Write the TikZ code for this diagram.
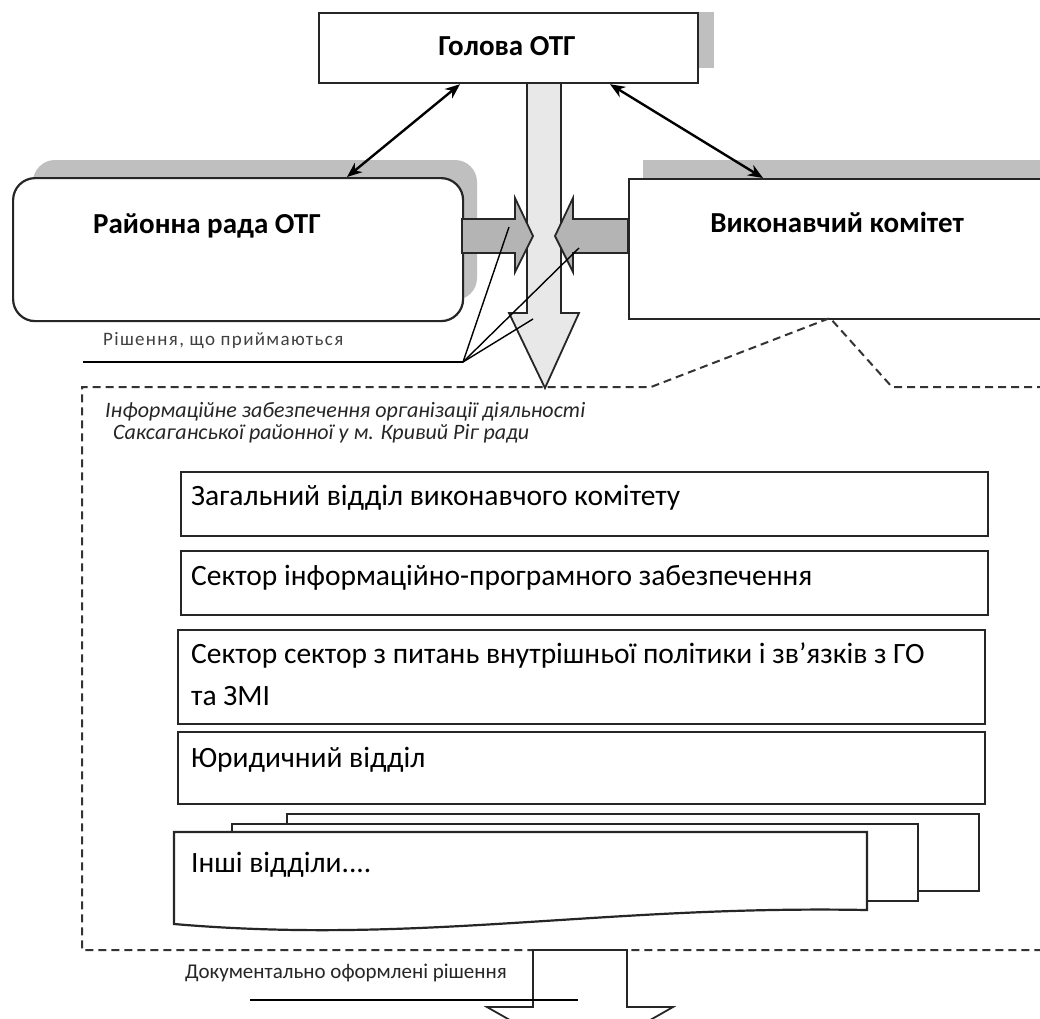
\documentclass[tikz,border=0pt]{standalone}
\usepackage{fontspec}
\setmainfont{Carlito}
\newfontfamily\spacedfont[LetterSpace=7]{Carlito}
\usetikzlibrary{arrows.meta,calc}
\definecolor{shadowgray}{HTML}{BFBFBF}
\definecolor{armgray}{HTML}{B4B4B4}
\definecolor{lightgray}{HTML}{E8E8E8}
\begin{document}
\begin{tikzpicture}[x=1pt,y=-1pt,
  box/.style={draw=black!85, line width=2.2pt, fill=white, inner sep=0pt, anchor=north west},
  big/.style={font=\fontsize{29}{33}\selectfont\bfseries, inner sep=0pt},
  body/.style={font=\fontsize{29.5}{42}\selectfont, anchor=west, inner sep=0pt, align=left},
  ital/.style={font=\fontsize{22}{26}\selectfont\itshape, anchor=west, inner sep=0pt, text=black!85},
  link/.style={line width=2.4pt, {Stealth[length=15pt,width=12pt]}-{Stealth[length=15pt,width=12pt]}},
  fanline/.style={line width=1.4pt},
  dashline/.style={draw=black!80, line width=2pt, dash pattern=on 8pt off 5pt},
  blockarrow/.style={draw=black!85, line width=1.8pt},
]
\clip (0,0) rectangle (1040,1018);
\fill[white] (0,0) rectangle (1040,1018);

% shadows
\fill[shadowgray] (697,12) rectangle (714,68);
\fill[shadowgray, rounded corners=22pt] (33,160) rectangle (477,300);
\fill[shadowgray] (643,160) rectangle (1060,300);

% central downward arrow
\draw[blockarrow, fill=lightgray] (527,70) -- (527,313) -- (509,313) -- (545,388) -- (579,313) -- (561,313) -- (561,70) -- cycle;

% main boxes
\node[box, minimum width=379pt, minimum height=70pt] (head) at (318,12) {};
\node[box, rounded corners=22pt, minimum width=450pt, minimum height=143pt] (rada) at (12,177) {};
\node[box, minimum width=440pt, minimum height=140pt] (exec) at (628,178) {};

\node[big] (headT) at (507,46) {Голова ОТГ};
\node[big] (radaT) at (207,226) {Районна рада ОТГ};
\node[big] (execT) at (837,222) {Виконавчий\ комітет};

% horizontal arrows
\draw[blockarrow, fill=armgray] (462,219) -- (515,219) -- (515,198) -- (533,236) -- (515,272) -- (515,253) -- (462,253) -- cycle;
\draw[blockarrow, fill=armgray] (628,219) -- (573,219) -- (573,198) -- (555,236) -- (573,272) -- (573,253) -- (628,253) -- cycle;

% two-way links
\draw[link] ($(head.south west)+(142,0)$) -- ($(rada.north west)+(335,0)$);
\draw[link] ($(head.south west)+(292,0)$) -- ($(exec.north west)+(135,0)$);

% callout
\node[font=\fontsize{19}{22}\selectfont\spacedfont, text=black!75, anchor=west, inner sep=0pt] (decT) at (103,341) {Рішення, що приймаються};
\coordinate (fan) at (463,362);
\coordinate (f1) at (509,227);
\coordinate (f2) at (579,248);
\coordinate (f3) at (533,319);
\draw[fanline] (83,362) -- (fan);
\draw[fanline] (fan) -- (f1);
\draw[fanline] (fan) -- (f2);
\draw[fanline] (fan) -- (f3);

% dashed region
\draw[dashline] (1045,387) -- (892,387) -- (830,318) -- (651,387) -- (82,387) -- (82,950) -- (1045,950);

\node[ital] (t1) at (105,412) {Інформаційне забезпечення організації діяльності};
\node[ital] (t2) at (113,434) {Саксаганської районної у м. Кривий Ріг ради};

% departments
\node[box, minimum width=807pt, minimum height=64pt] (b1) at (180,471) {};
\node[box, minimum width=807pt, minimum height=64pt] (b2) at (180,550) {};
\node[box, minimum width=807pt, minimum height=94pt] (b3) at (177,629) {};
\node[box, minimum width=807pt, minimum height=72pt] (b4) at (177,731) {};
\node[body] (b1T) at (191,498) {Загальний відділ виконавчого комітету};
\node[body] (b2T) at (191,578) {Сектор інформаційно-програмного забезпечення};
\node[body] (b3T) at (191,674) {Сектор сектор з питань внутрішньої політики і зв’язків з ГО\\та ЗМІ};
\node[body] (b4T) at (191,760) {Юридичний відділ};

% stacked documents
\node[box, minimum width=692pt, minimum height=77pt] (d3) at (286,813) {};
\node[box, minimum width=686pt, minimum height=77pt] (d2) at (231,823) {};
\draw[draw=black!85, line width=2.2pt, fill=white] (174,832) -- (867,832) -- (867,910) .. controls (600,905) and (420,945) .. (174,924) -- cycle;
\node[body] (d1T) at (191,865) {Інші відділи....};

% bottom output
\node[font=\fontsize{21}{25}\selectfont, anchor=west, inner sep=0pt, text=black!85] (docT) at (185,973) {Документально оформлені рішення};
\draw[blockarrow, fill=white] (533,950) -- (533,1007) -- (487,1007) -- (580,1060) -- (673,1007) -- (627,1007) -- (627,950) -- cycle;
\draw[fanline] (250,1000) -- (578,1000);
\end{tikzpicture}
\end{document}
